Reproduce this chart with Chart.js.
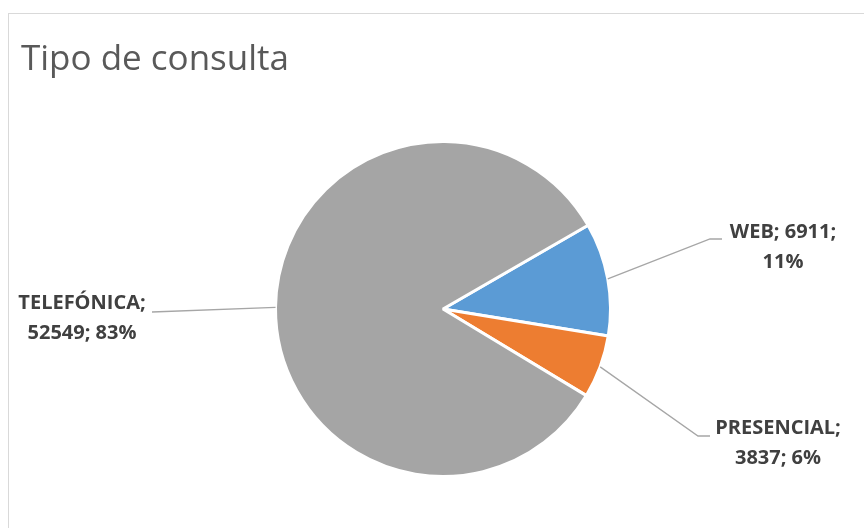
<!DOCTYPE html>
<html>
<head>
<meta charset="utf-8">
<script src="https://cdn.jsdelivr.net/npm/chart.js@4"></script>
<style>
  html, body { margin: 0; padding: 0; background: #fff; }
  #wrap { position: relative; width: 864px; height: 528px; }
  #frame { position: absolute; left: 8px; top: 13px; right: -2px; bottom: -2px; border: 1px solid #d9d9d9; }
  canvas { position: absolute; left: 0; top: 0; }
</style>
</head>
<body>
<div id="wrap">
  <div id="frame"></div>
  <canvas id="chart" width="864" height="528"></canvas>
</div>
<script>
const categories = ['WEB', 'PRESENCIAL', 'TELEFÓNICA'];
const values = [6911, 3837, 52549];
const colors = ['#5B9BD5', '#ED7D31', '#A5A5A5'];

// leader elbow + label placement for each slice (relative to pie centre)
const labelLayout = [
  { elbow: [267, -70], end: [279, -70], text: [340, -77], lines: (c, v, p) => [c + '; ' + v + ';', p] },
  { elbow: [255, 127], end: [267, 127], text: [335, 119], lines: (c, v, p) => [c + ';', v + '; ' + p] },
  { elbow: [-291, 3], end: [-291, 3], text: [-361, -6], lines: (c, v, p) => [c + ';', v + '; ' + p] }
];

const total = values.reduce((a, b) => a + b, 0);

const pieLabels = {
  id: 'pieLabels',
  afterDatasetsDraw(chart) {
    const ctx = chart.ctx;
    const meta = chart.getDatasetMeta(0);
    ctx.save();
    meta.data.forEach((arc, i) => {
      const mid = (arc.startAngle + arc.endAngle) / 2;
      const cx = arc.x, cy = arc.y;
      const r = arc.outerRadius;
      const lay = labelLayout[i];
      ctx.strokeStyle = '#a6a6a6';
      ctx.lineWidth = 1.3;
      ctx.beginPath();
      ctx.moveTo(cx + Math.cos(mid) * r, cy + Math.sin(mid) * r);
      ctx.lineTo(cx + lay.elbow[0], cy + lay.elbow[1]);
      ctx.lineTo(cx + lay.end[0], cy + lay.end[1]);
      ctx.stroke();

      const pct = Math.round(values[i] / total * 100) + '%';
      const lines = lay.lines(categories[i], values[i], pct);
      ctx.fillStyle = '#404040';
      ctx.font = 'bold 20px "Open Sans", sans-serif';
      ctx.textAlign = 'center';
      ctx.textBaseline = 'middle';
      lines.forEach((t, k) => {
        ctx.fillText(t, cx + lay.text[0], cy + lay.text[1] + k * 30);
      });
    });
    ctx.fillStyle = '#595959';
    ctx.font = '35px "Open Sans", sans-serif';
    ctx.textAlign = 'left';
    ctx.textBaseline = 'middle';
    ctx.fillText('Tipo de consulta', 21, 60);
    ctx.restore();
  }
};

new Chart(document.getElementById('chart'), {
  type: 'pie',
  data: {
    labels: categories,
    datasets: [{
      data: values,
      backgroundColor: colors,
      borderColor: '#ffffff',
      borderWidth: 3
    }]
  },
  options: {
    responsive: false,
    animation: false,
    rotation: 60,
    layout: { padding: { left: 274, right: 252, top: 140, bottom: 50 } },
    plugins: {
      legend: { display: false },
      tooltip: { enabled: false },
      title: { display: false }
    }
  },
  plugins: [pieLabels]
});
</script>
</body>
</html>
